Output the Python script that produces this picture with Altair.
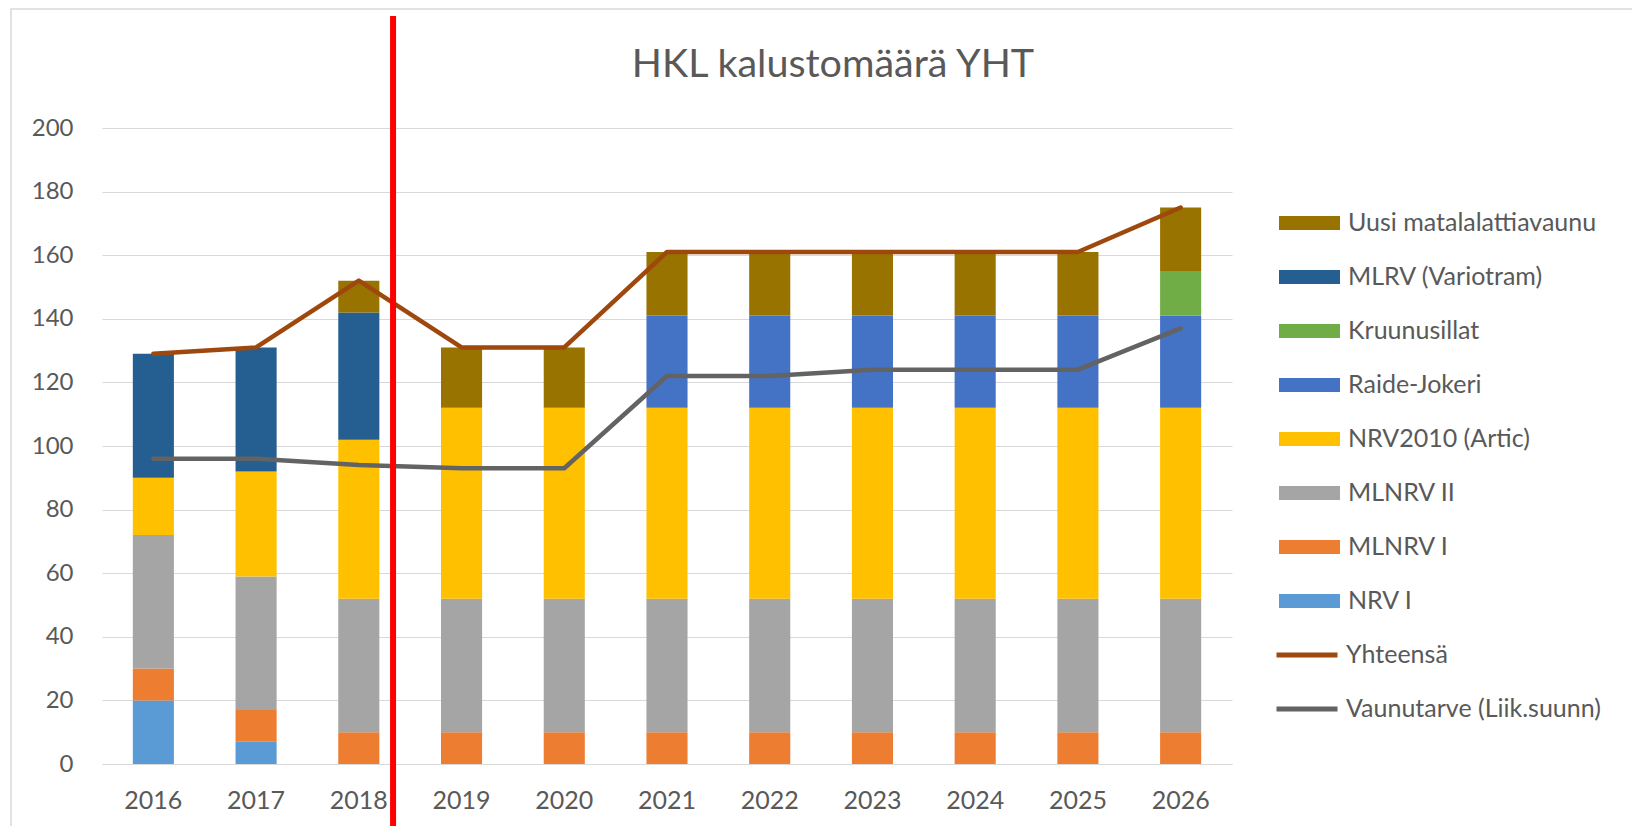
import altair as alt
import pandas as pd

years = ["2016", "2017", "2018", "2019", "2020", "2021", "2022", "2023", "2024", "2025", "2026"]

# stacked bar series (bottom -> top)
nrv_i = [20, 7, 0, 0, 0, 0, 0, 0, 0, 0, 0]
mlnrv_i = [10, 10, 10, 10, 10, 10, 10, 10, 10, 10, 10]
mlnrv_ii = [42, 42, 42, 42, 42, 42, 42, 42, 42, 42, 42]
nrv2010 = [18, 33, 50, 60, 60, 60, 60, 60, 60, 60, 60]
raide_jokeri = [0, 0, 0, 0, 0, 29, 29, 29, 29, 29, 29]
kruunusillat = [0, 0, 0, 0, 0, 0, 0, 0, 0, 0, 14]
mlrv = [39, 39, 40, 0, 0, 0, 0, 0, 0, 0, 0]
uusi = [0, 0, 10, 19, 19, 20, 20, 20, 20, 20, 20]

# line series
yhteensa = [129, 131, 152, 131, 131, 161, 161, 161, 161, 161, 175]
vaunutarve = [96, 96, 94, 93, 93, 122, 122, 124, 124, 124, 137]

bar_names = ["NRV I", "MLNRV I", "MLNRV II", "NRV2010 (Artic)", "Raide-Jokeri",
             "Kruunusillat", "MLRV (Variotram)", "Uusi matalalattiavaunu"]
bar_values = [nrv_i, mlnrv_i, mlnrv_ii, nrv2010, raide_jokeri, kruunusillat, mlrv, uusi]
bar_colors = ["#5B9BD5", "#ED7D31", "#A5A5A5", "#FFC000", "#4472C4",
              "#70AD47", "#255E91", "#997300"]

line_names = ["Yhteensä", "Vaunutarve (Liik.suunn)"]
line_values = [yhteensa, vaunutarve]
line_colors = ["#9E480E", "#636363"]

marker_year = ["2018"]
title_text = "HKL kalustomäärä YHT"

TEXT = "#595959"
GRID = "#D9D9D9"
FONT = "Lato"

bar_rows = []
for k, (name, vals) in enumerate(zip(bar_names, bar_values)):
    for y, v in zip(years, vals):
        if v > 0:
            bar_rows.append({"year": y, "series": name, "value": v, "stack": k})
bars_df = pd.DataFrame(bar_rows)

line_rows = []
for name, vals in zip(line_names, line_values):
    for y, v in zip(years, vals):
        line_rows.append({"year": y, "series": name, "value": v})
lines_df = pd.DataFrame(line_rows)

marker_df = pd.DataFrame({"year": marker_year})
one_df = pd.DataFrame({"k": [0]})

W, H = 1130, 636

xscale = alt.Scale(domain=years, paddingInner=0.6, paddingOuter=0.3)
yscale = alt.Scale(domain=[0, 200], nice=False)

x_enc = alt.X("year:N", scale=xscale, sort=years,
              axis=alt.Axis(title=None, labelAngle=0, grid=False, domain=True,
                            labelPadding=24, labelFontSize=25))
y_axis = alt.Axis(title=None, values=list(range(0, 201, 20)), grid=True, domain=False,
                  labelPadding=29)

legend_order = list(reversed(bar_names))
legend_colors = list(reversed(bar_colors))

bars = alt.Chart(bars_df).mark_bar().encode(
    x=x_enc,
    y=alt.Y("value:Q", stack="zero", scale=yscale, axis=y_axis),
    color=alt.Color("series:N", title=None,
                    scale=alt.Scale(domain=legend_order, range=legend_colors),
                    legend=alt.Legend(orient="none", legendX=1177, legendY=80,
                                      symbolType="M-1,-0.23H1V0.23H-1Z", symbolSize=3721,
                                      symbolStrokeWidth=0, symbolOpacity=1,
                                      labelFont=FONT, labelFontSize=25, labelColor=TEXT,
                                      clipHeight=30, rowPadding=24, labelOffset=8,
                                      padding=0, labelLimit=400)),
    order=alt.Order("stack:Q"),
)

lines = alt.Chart(lines_df).mark_line(strokeWidth=4.5, strokeJoin="round", strokeCap="round").encode(
    x=x_enc,
    y=alt.Y("value:Q", stack=False, scale=yscale, axis=y_axis),
    stroke=alt.Stroke("series:N", title=None,
                      scale=alt.Scale(domain=line_names, range=line_colors),
                      legend=alt.Legend(orient="none", legendX=1172, legendY=512,
                                        symbolType="stroke", symbolSize=3721,
                                        symbolStrokeWidth=5,
                                        labelFont=FONT, labelFontSize=25, labelColor=TEXT,
                                        clipHeight=30, rowPadding=24, labelOffset=6,
                                        padding=0, labelLimit=400)),
)

marker = alt.Chart(marker_df).mark_rule(color="#FF0000", strokeWidth=6, xOffset=13.7).encode(
    x=alt.X("year:N", scale=xscale, sort=years, bandPosition=1),
    y=alt.value(-112),
    y2=alt.value(760),
)

frame = alt.Chart(one_df).mark_rect(fillOpacity=0, stroke=GRID, strokeWidth=1.5).encode(
    x=alt.value(-91), x2=alt.value(1600), y=alt.value(-119), y2=alt.value(800)
)

title = alt.Chart(one_df).mark_text(
    text=title_text, font=FONT, fontSize=39.5, color=TEXT,
    align="center", baseline="alphabetic"
).encode(x=alt.value(731), y=alt.value(-51))

chart = alt.layer(frame, bars, lines, marker, title).properties(
    width=W, height=H,
    autosize=alt.AutoSizeParams(type="none"),
    padding={"left": 94, "top": 120, "right": 400, "bottom": 62},
).configure_axis(
    labelFont=FONT, labelFontSize=24, labelColor=TEXT,
    gridColor=GRID, domainColor=GRID, ticks=False, tickSize=0,
).configure_view(strokeWidth=0)

chart.save("out.html", embed_options={"renderer": "svg", "actions": False})
